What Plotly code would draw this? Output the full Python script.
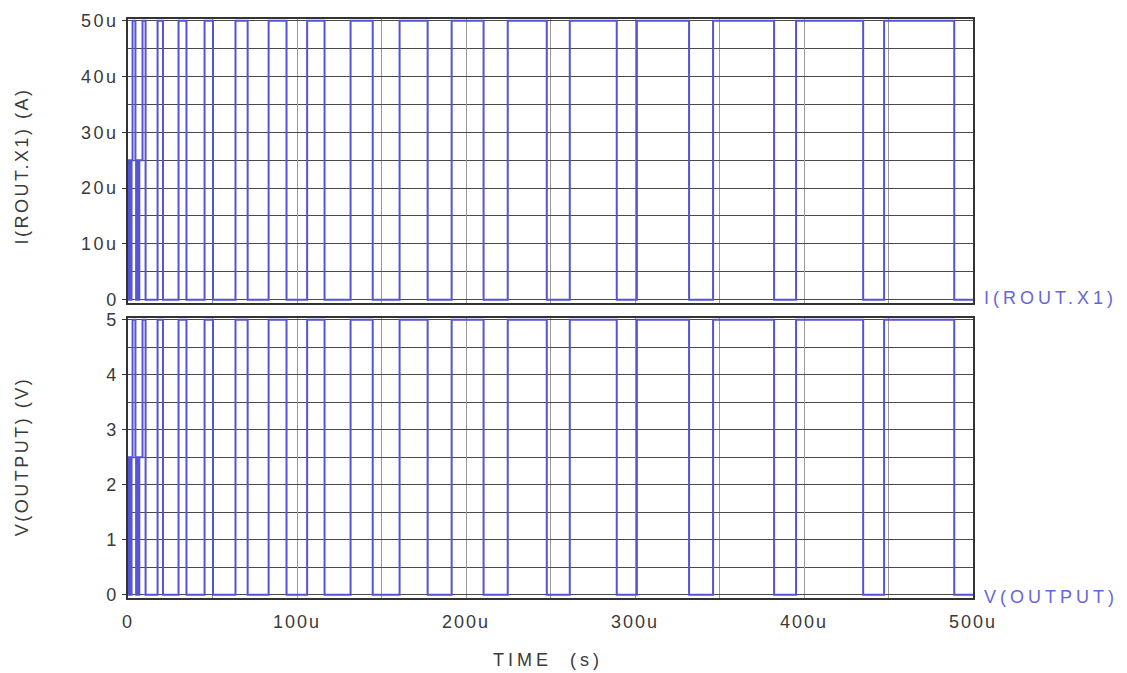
import plotly.graph_objects as go

# ---- data ----
t_us = [0, 0.3, 0.6, 0.9, 1.2, 1.5, 1.8, 2.1, 2.7, 4.4, 4.8, 5.1, 5.5, 5.9, 6.3, 6.7, 8.6,
        10.4, 17.5, 20.7, 29.9, 34.6, 45.3, 50.3, 63.6, 70.8, 83.2, 93.8, 106.0, 116.3,
        131.7, 144.8, 160.7, 177.3, 191.5, 210.4, 224.7, 247.8, 261.4, 289.2, 301.1,
        332.0, 346.2, 382.3, 395.3, 435.0, 447.4, 488.9, 500.0]
i_uA = [0, 25, 0, 25, 0, 25, 0, 25, 50, 25, 0, 25, 0, 25, 0, 25, 50,
        0, 50, 0, 50, 0, 50, 0, 50, 0, 50, 0, 50, 0,
        50, 0, 50, 0, 50, 0, 50, 0, 50, 0, 50,
        0, 50, 0, 50, 0, 50, 0, 0]
v_V = [0, 2.5, 0, 2.5, 0, 2.5, 0, 2.5, 5, 2.5, 0, 2.5, 0, 2.5, 0, 2.5, 5,
       0, 5, 0, 5, 0, 5, 0, 5, 0, 5, 0, 5, 0,
       5, 0, 5, 0, 5, 0, 5, 0, 5, 0, 5,
       0, 5, 0, 5, 0, 5, 0, 0]

x_tick_us = [0, 100, 200, 300, 400, 500]
x_tick_text = ["0", "100u", "200u", "300u", "400u", "500u"]
i_tick_uA = [0, 10, 20, 30, 40, 50]
i_tick_text = ["0", "10u", "20u", "30u", "40u", "50u"]
v_tick = [0, 1, 2, 3, 4, 5]
v_tick_text = ["0", "1", "2", "3", "4", "5"]

# ---- unit conversion ----
t_s = [v * 1e-6 for v in t_us]
i_A = [v * 1e-6 for v in i_uA]
x_tick_s = [v * 1e-6 for v in x_tick_us]
i_tick_A = [v * 1e-6 for v in i_tick_uA]

BLUE = "#5454d4"
TXT_BLUE = "#6666dc"
GRID_H = "#4a4a4a"
GRID_V = "#9a9a9a"
FRAME = "#333333"
TICKC = "#3a3a3a"
FONT = "Liberation Sans, Arial, sans-serif"

fig = go.Figure()
fig.add_trace(go.Scatter(x=t_s, y=i_A, mode="lines", xaxis="x", yaxis="y",
                         line=dict(color=BLUE, width=2, shape="hv"),
                         showlegend=False, hoverinfo="skip"))
fig.add_trace(go.Scatter(x=t_s, y=v_V, mode="lines", xaxis="x2", yaxis="y2",
                         line=dict(color=BLUE, width=2, shape="hv"),
                         showlegend=False, hoverinfo="skip"))

xcommon = dict(range=[0, 500e-6], tickmode="array", tickvals=x_tick_s, ticktext=x_tick_text,
               showgrid=True, gridcolor=GRID_V, gridwidth=1,
               minor=dict(tick0=0, dtick=50e-6, showgrid=True, gridcolor=GRID_V, gridwidth=1),
               showline=True, mirror=True, linecolor=FRAME, linewidth=1.5,
               zeroline=False, ticks="", tickfont=dict(family=FONT, size=18, color=TICKC))

fig.update_layout(
    width=1127, height=673,
    margin=dict(l=128, r=154, t=19, b=75),
    paper_bgcolor="white", plot_bgcolor="white",
    xaxis=dict(domain=[0, 1], anchor="y", showticklabels=False, **xcommon),
    xaxis2=dict(domain=[0, 1], anchor="y2", matches="x", showticklabels=True,
                ticklabelstandoff=7, **xcommon),
    yaxis=dict(domain=[0.5095, 1], anchor="x", range=[-0.6e-6, 50.3e-6],
               tickmode="array", tickvals=i_tick_A, ticktext=i_tick_text,
               showgrid=True, gridcolor=GRID_H, gridwidth=1,
               minor=dict(tick0=0, dtick=5e-6, showgrid=True, gridcolor=GRID_H, gridwidth=1),
               showline=True, mirror=True, linecolor=FRAME, linewidth=1.5,
               zeroline=False, ticks="outside", ticklen=4, tickcolor=FRAME,
               tickfont=dict(family=FONT, size=18, color=TICKC)),
    yaxis2=dict(domain=[0, 0.4836], anchor="x2", range=[-0.06, 5.03],
                tickmode="array", tickvals=v_tick, ticktext=v_tick_text,
                showgrid=True, gridcolor=GRID_H, gridwidth=1,
                minor=dict(tick0=0, dtick=0.5, showgrid=True, gridcolor=GRID_H, gridwidth=1),
                showline=True, mirror=True, linecolor=FRAME, linewidth=1.5,
                zeroline=False, ticks="outside", ticklen=4, tickcolor=FRAME,
                tickfont=dict(family=FONT, size=18, color=TICKC)),
)

ann_font = dict(family=FONT, size=18, color=TICKC)
fig.add_annotation(text="I(ROUT.X1) (A)", xref="paper", yref="paper", x=0, y=0.746,
                   xshift=-106, textangle=-90, showarrow=False, font=ann_font,
                   xanchor="center", yanchor="middle")
fig.add_annotation(text="V(OUTPUT) (V)", xref="paper", yref="paper", x=0, y=0.2435,
                   xshift=-106, textangle=-90, showarrow=False, font=ann_font,
                   xanchor="center", yanchor="middle")
fig.add_annotation(text="TIME  (s)", xref="paper", yref="paper", x=0.4967, y=-0.107,
                   showarrow=False, font=ann_font, xanchor="center", yanchor="middle")
fig.add_annotation(text="I(ROUT.X1)", xref="paper", yref="paper", x=1, y=0.518,
                   xshift=9, showarrow=False, align="left",
                   font=dict(family=FONT, size=18, color=TXT_BLUE),
                   xanchor="left", yanchor="middle")
fig.add_annotation(text="V(OUTPUT)", xref="paper", yref="paper", x=1, y=0.002,
                   xshift=9, showarrow=False, align="left",
                   font=dict(family=FONT, size=18, color=TXT_BLUE),
                   xanchor="left", yanchor="middle")

# the reference uses widely spaced lettering
post = """
var gd = document.getElementById('{plot_id}');
function spc(sel, v) {
  gd.querySelectorAll(sel).forEach(function(t) { t.style.letterSpacing = v; });
}
spc('.xtick text, .x2tick text', '2px');
spc('.ytick text, .y2tick text', '2.5px');
spc('g.annotation[data-index="0"] text, g.annotation[data-index="1"] text', '2.5px');
spc('g.annotation[data-index="2"] text', '4px');
spc('g.annotation[data-index="3"] text, g.annotation[data-index="4"] text', '4px');
"""

fig.write_html("out.html", post_script=post)
